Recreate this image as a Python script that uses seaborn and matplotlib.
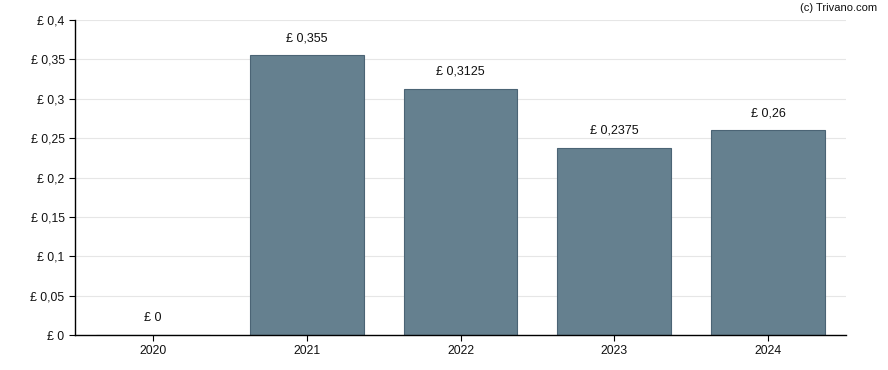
import seaborn as sns
import matplotlib.pyplot as plt
import pandas as pd
from matplotlib.ticker import FuncFormatter, MultipleLocator

years = ["2020", "2021", "2022", "2023", "2024"]
dividends = [0.0, 0.355, 0.3125, 0.2375, 0.26]
bar_labels = ["£ 0", "£ 0,355", "£ 0,3125", "£ 0,2375", "£ 0,26"]

sns.set_theme(style="white")
plt.rcParams['font.family'] = ['Liberation Sans', 'DejaVu Sans']

data = pd.DataFrame({"year": years, "dividend": dividends})

fig = plt.figure(figsize=(8.88, 3.70), dpi=100)
ax = fig.add_axes([75 / 888, 35 / 370, 771 / 888, 315 / 370])

sns.barplot(data=data, x="year", y="dividend", color="#65808f", saturation=1,
            width=0.74, edgecolor="#4b6475", linewidth=0.8, ax=ax, zorder=2)

for i, (v, lab) in enumerate(zip(dividends, bar_labels)):
    ax.annotate(lab, (i, v), xytext=(0, 8), textcoords="offset points",
                ha="center", va="bottom", fontsize=9, color="#111111")

ax.set_xlim(-0.507, 4.507)
ax.set_ylim(0, 0.4)
ax.yaxis.set_major_locator(MultipleLocator(0.05))


def fmt(v, pos):
    s = f"{v:.2f}".rstrip("0").rstrip(".")
    return "£ " + s.replace(".", ",")


ax.yaxis.set_major_formatter(FuncFormatter(fmt))
ax.grid(axis="y", color="#e6e6e6", linewidth=0.8, zorder=0)
ax.set_axisbelow(True)
sns.despine(ax=ax)
for side in ["left", "bottom"]:
    ax.spines[side].set_color("black")
    ax.spines[side].set_linewidth(1)
ax.tick_params(axis="both", length=4, width=0.8, color="black", labelsize=8.8,
               labelcolor="#111111", direction="out", bottom=True, left=True)
ax.set_xlabel("")
ax.set_ylabel("")

fig.text(877 / 888, 1 - 8 / 370, "(c) Trivano.com", ha="right", va="center",
         fontsize=8, color="#111111")

fig.savefig("out.png", dpi=100)
